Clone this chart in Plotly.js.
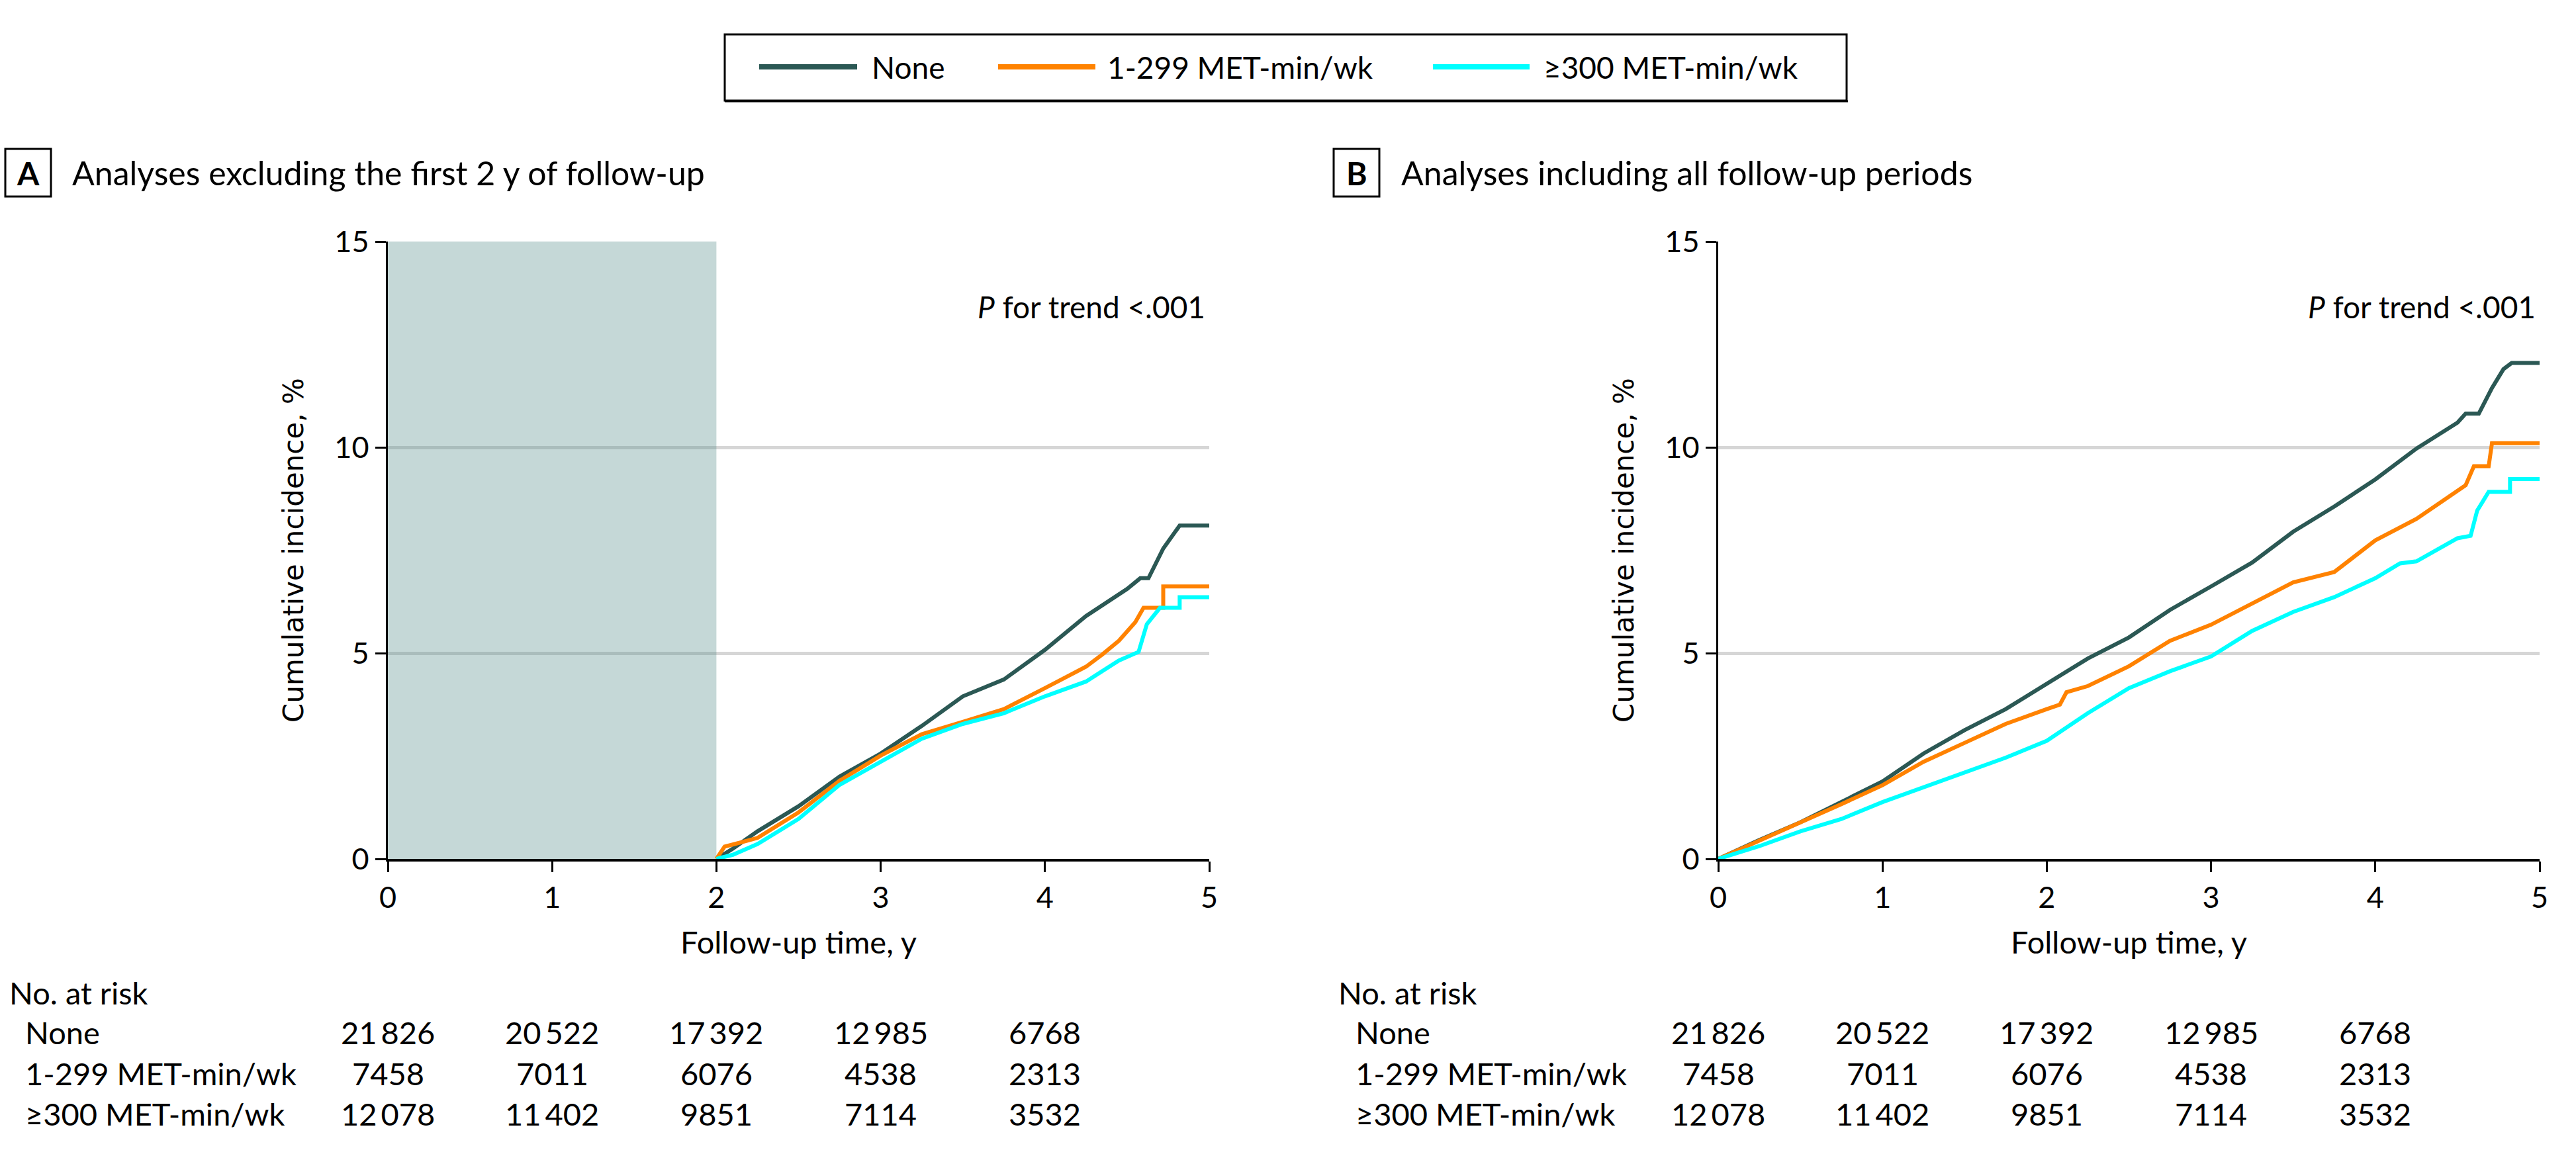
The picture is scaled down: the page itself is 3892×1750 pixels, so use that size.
<!DOCTYPE html>
<html>
<head>
<meta charset="utf-8">
<script src="https://cdn.plot.ly/plotly-3.0.1.min.js"></script>
<style>
  html, body { margin: 0; padding: 0; background: #ffffff; }
  #chart { width: 3892px; height: 1750px; }
</style>
</head>
<body>
<div id="chart"></div>
<script>
// ---------------- DATA ----------------
const seriesNames = ['None', '1-299 MET-min/wk', '\u2265300 MET-min/wk'];
const seriesColors = ['#2b5854', '#ff8200', '#00ffff'];

// Panel A: analyses excluding the first 2 y of follow-up
const timeA_none = [2.0, 2.1, 2.25, 2.5, 2.75, 3.0, 3.25, 3.5, 3.75, 4.0, 4.25, 4.5, 4.58, 4.63, 4.72, 4.78, 4.82, 5.0];
const incA_none  = [0, 0.25, 0.67, 1.28, 2.0, 2.56, 3.23, 3.95, 4.36, 5.08, 5.9, 6.56, 6.82, 6.82, 7.54, 7.9, 8.1, 8.1];
const timeA_low  = [2.0, 2.05, 2.1, 2.25, 2.5, 2.75, 3.0, 3.25, 3.5, 3.75, 4.0, 4.25, 4.35, 4.45, 4.55, 4.6, 4.72, 4.72, 5.0];
const incA_low   = [0, 0.3, 0.35, 0.51, 1.13, 1.9, 2.51, 3.03, 3.33, 3.64, 4.15, 4.67, 4.97, 5.3, 5.75, 6.1, 6.1, 6.62, 6.62];
const timeA_high = [2.0, 2.1, 2.25, 2.5, 2.75, 3.0, 3.25, 3.5, 3.75, 4.0, 4.25, 4.45, 4.57, 4.62, 4.7, 4.82, 4.82, 5.0];
const incA_high  = [0, 0.1, 0.36, 0.97, 1.8, 2.36, 2.92, 3.28, 3.54, 3.95, 4.31, 4.82, 5.03, 5.7, 6.1, 6.1, 6.36, 6.36];

// Panel B: analyses including all follow-up periods
const timeB_none = [0, 0.25, 0.5, 0.75, 1.0, 1.25, 1.5, 1.75, 2.0, 2.25, 2.5, 2.75, 3.0, 3.25, 3.5, 3.75, 4.0, 4.25, 4.5, 4.55, 4.63, 4.71, 4.78, 4.83, 5.0];
const incB_none  = [0, 0.46, 0.89, 1.38, 1.88, 2.56, 3.13, 3.64, 4.26, 4.87, 5.38, 6.05, 6.62, 7.2, 7.95, 8.56, 9.22, 9.97, 10.6, 10.82, 10.82, 11.44, 11.9, 12.05, 12.05];
const timeB_low  = [0, 0.25, 0.5, 0.75, 1.0, 1.25, 1.5, 1.75, 2.0, 2.08, 2.12, 2.25, 2.5, 2.75, 3.0, 3.25, 3.5, 3.75, 4.0, 4.25, 4.5, 4.55, 4.6, 4.69, 4.71, 5.0];
const incB_low   = [0, 0.44, 0.87, 1.33, 1.79, 2.36, 2.82, 3.28, 3.64, 3.75, 4.05, 4.2, 4.68, 5.3, 5.69, 6.2, 6.72, 6.97, 7.74, 8.26, 8.95, 9.08, 9.54, 9.54, 10.1, 10.1];
const timeB_high = [0, 0.25, 0.5, 0.75, 1.0, 1.25, 1.5, 1.75, 2.0, 2.25, 2.5, 2.75, 3.0, 3.25, 3.5, 3.75, 4.0, 4.15, 4.25, 4.5, 4.58, 4.62, 4.69, 4.82, 4.82, 5.0];
const incB_high  = [0, 0.31, 0.67, 0.97, 1.38, 1.74, 2.1, 2.46, 2.87, 3.54, 4.15, 4.56, 4.92, 5.54, 6.0, 6.36, 6.82, 7.18, 7.23, 7.79, 7.85, 8.46, 8.92, 8.92, 9.23, 9.23];

// Number at risk table
const riskTimes = [0, 1, 2, 3, 4];
const riskNone  = [21826, 20522, 17392, 12985, 6768];
const riskLow   = [7458, 7011, 6076, 4538, 2313];
const riskHigh  = [12078, 11402, 9851, 7114, 3532];

const xTicks = [0, 1, 2, 3, 4, 5];
const yTicks = [0, 5, 10, 15];
const panelTitles = ['Analyses excluding the first 2 y of follow-up', 'Analyses including all follow-up periods'];
const panelLetters = ['A', 'B'];
const pText = '<i>P</i> for trend &lt;.001';

// ---------------- LAYOUT HELPERS ----------------
const W = 3892, H = 1750;
const px = v => v / W;
const py = v => 1 - v / H;
const FONT = 'Lato, "Noto Sans", "Liberation Sans", sans-serif';
const YFONT = '"DejaVu Sans", Verdana, sans-serif';
const FS = 45;

const panelX = [[586, 1827], [2596, 3837]];
const plotTop = 365, plotBottom = 1298;

const dataA = [[timeA_none, incA_none], [timeA_low, incA_low], [timeA_high, incA_high]];
const dataB = [[timeB_none, incB_none], [timeB_low, incB_low], [timeB_high, incB_high]];

const traces = [];
[dataA, dataB].forEach((panel, p) => {
  panel.forEach((s, i) => {
    traces.push({
      type: 'scatter', mode: 'lines',
      x: s[0], y: s[1],
      name: seriesNames[i],
      xaxis: p === 0 ? 'x' : 'x2',
      yaxis: p === 0 ? 'y' : 'y2',
      line: { color: seriesColors[i], width: 6, shape: 'linear' },
      showlegend: false,
      hoverinfo: 'skip'
    });
  });
});

function xAxis(p) {
  return {
    domain: [px(panelX[p][0]), px(panelX[p][1])],
    anchor: p === 0 ? 'y' : 'y2',
    range: [0, 5], fixedrange: true,
    tickmode: 'array', tickvals: xTicks, ticktext: xTicks.map(String),
    ticks: 'outside', ticklen: 16, tickwidth: 3, tickcolor: '#000',
    showline: true, linewidth: 3.5, linecolor: '#000',
    showgrid: false, zeroline: false,
    tickfont: { family: FONT, size: FS, color: '#000' },
    title: { text: 'Follow-up time, y', font: { family: FONT, size: 47, color: '#000' }, standoff: 28 }
  };
}
function yAxis(p) {
  return {
    domain: [py(plotBottom), py(plotTop)],
    anchor: p === 0 ? 'x' : 'x2',
    range: [0, 15], fixedrange: true,
    tickmode: 'array', tickvals: yTicks, ticktext: yTicks.map(String),
    ticks: 'outside', ticklen: 16, tickwidth: 3, tickcolor: '#000',
    showline: true, linewidth: 3.5, linecolor: '#000',
    showgrid: true, gridcolor: '#d6d6d6', gridwidth: 5,
    zeroline: false,
    tickfont: { family: FONT, size: FS, color: '#000' },
    title: { text: 'Cumulative incidence, %', font: { family: YFONT, size: 42, color: '#000' }, standoff: 34 }
  };
}

const shapes = [];
const annotations = [];

// shaded excluded period in panel A
shapes.push({
  type: 'rect', xref: 'x', yref: 'y', x0: 0, x1: 2, y0: 0, y1: 15,
  fillcolor: 'rgba(89,144,141,0.35)', line: { width: 0 }, layer: 'between'
});

// panel letters and titles
const letterBoxX = [[8, 77], [2015, 2084]];
const titleX = [107, 2115];
for (let p = 0; p < 2; p++) {
  shapes.push({
    type: 'rect', xref: 'paper', yref: 'paper',
    x0: px(letterBoxX[p][0]), x1: px(letterBoxX[p][1]), y0: py(297), y1: py(225),
    line: { color: '#000', width: 3 }, fillcolor: '#ffffff'
  });
  annotations.push({
    xref: 'paper', yref: 'paper', x: px((letterBoxX[p][0] + letterBoxX[p][1]) / 2), y: py(261),
    text: '<b>' + panelLetters[p] + '</b>', showarrow: false, xanchor: 'center', yanchor: 'middle',
    font: { family: FONT, size: 48, color: '#000' }
  });
  annotations.push({
    xref: 'paper', yref: 'paper', x: px(titleX[p]), y: py(261),
    text: panelTitles[p], showarrow: false, xanchor: 'left', yanchor: 'middle',
    font: { family: FONT, size: 50, color: '#000' }
  });
  // P for trend
  annotations.push({
    xref: p === 0 ? 'x' : 'x2', yref: p === 0 ? 'y' : 'y2', x: 5, y: 13.42,
    text: pText, showarrow: false, xanchor: 'right', yanchor: 'middle', xshift: -4,
    font: { family: FONT, size: 46, color: '#000' }
  });
}

// Legend (manual, at top center)
shapes.push({
  type: 'rect', xref: 'paper', yref: 'paper',
  x0: px(1095), x1: px(2790), y0: py(152), y1: py(52),
  line: { color: '#000', width: 3 }, fillcolor: '#ffffff'
});
shapes.push({
  type: 'line', xref: 'paper', yref: 'paper',
  x0: px(1095), x1: px(2792), y0: py(153), y1: py(153),
  line: { color: '#000', width: 3 }
});
const legLineX = [[1147, 1295], [1508, 1655], [2165, 2311]];
const legTextX = [1315, 1671, 2330];
for (let i = 0; i < 3; i++) {
  shapes.push({
    type: 'line', xref: 'paper', yref: 'paper',
    x0: px(legLineX[i][0]), x1: px(legLineX[i][1]), y0: py(101), y1: py(101),
    line: { color: seriesColors[i], width: 8 }
  });
  annotations.push({
    xref: 'paper', yref: 'paper', x: px(legTextX[i]), y: py(102),
    text: seriesNames[i], showarrow: false, xanchor: 'left', yanchor: 'middle',
    font: { family: FONT, size: 46, color: '#000' }
  });
}

// Number at risk tables
const fmt = n => {
  const s = String(n);
  return n >= 10000 ? s.slice(0, s.length - 3) + '\u2009' + s.slice(-3) : s;
};
const riskRows = [riskNone, riskLow, riskHigh];
const rowY = [1560, 1622, 1683];
const headX = [12, 2020];
const rowLabelX = [36, 2046];
for (let p = 0; p < 2; p++) {
  annotations.push({
    xref: 'paper', yref: 'paper', x: px(headX[p]), y: py(1500),
    text: 'No. at risk', showarrow: false, xanchor: 'left', yanchor: 'middle',
    font: { family: FONT, size: 47, color: '#000' }
  });
  riskRows.forEach((row, r) => {
    annotations.push({
      xref: 'paper', yref: 'paper', x: px(rowLabelX[p]), y: py(rowY[r]),
      text: seriesNames[r], showarrow: false, xanchor: 'left', yanchor: 'middle',
      font: { family: FONT, size: 47, color: '#000' }
    });
    row.forEach((v, c) => {
      annotations.push({
        xref: p === 0 ? 'x' : 'x2', yref: 'paper', x: riskTimes[c], y: py(rowY[r]),
        text: fmt(v), showarrow: false, xanchor: 'center', yanchor: 'middle',
        font: { family: FONT, size: 47, color: '#000' }
      });
    });
  });
}

const layout = {
  width: W, height: H,
  margin: { l: 0, r: 0, t: 0, b: 0, pad: 0 },
  paper_bgcolor: '#ffffff', plot_bgcolor: '#ffffff',
  showlegend: false,
  xaxis: xAxis(0), yaxis: yAxis(0),
  xaxis2: xAxis(1), yaxis2: yAxis(1),
  shapes: shapes,
  annotations: annotations
};

Plotly.newPlot('chart', traces, layout, { staticPlot: true, displayModeBar: false });
</script>
</body>
</html>
